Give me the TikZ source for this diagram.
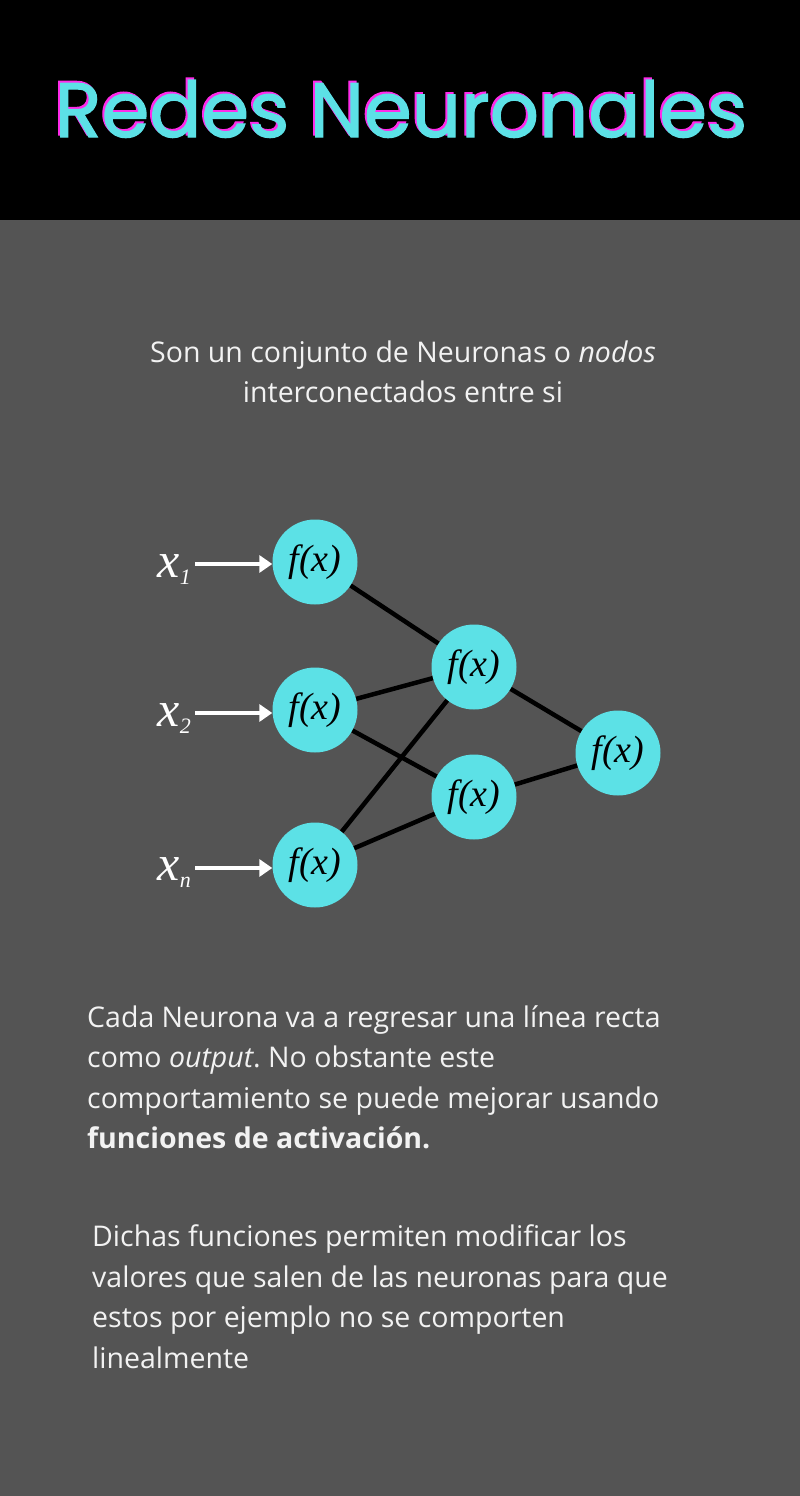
\documentclass[tikz,border=0pt]{standalone}
\usepackage{fontspec}
\setmainfont{Open Sans}
\newfontfamily\titlefont[FakeBold=1.6]{Poppins}
\newfontfamily\mathserif{Liberation Serif}
\usetikzlibrary{arrows.meta}
\definecolor{bgray}{HTML}{545454}
\definecolor{cyanN}{HTML}{5CE1E6}
\definecolor{magN}{HTML}{FF2BEA}
\definecolor{txtw}{HTML}{F2F2F2}
\frenchspacing
\tikzset{
  neuron/.style={circle, fill=cyanN, minimum size=85pt, inner sep=0pt,
    font=\mathserif\itshape\fontsize{38}{38}\selectfont, text=black},
  conn/.style={line width=4.5pt, black},
  inarrow/.style={line width=4.5pt, white, -{Triangle[length=13pt,width=17pt]}},
  inlabel/.style={anchor=base east, inner sep=0pt, text=white,
    font=\mathserif\itshape\fontsize{50}{50}\selectfont},
  bodyline/.style={anchor=base west, inner sep=0pt, text=txtw,
    font=\fontsize{28.5}{40}\selectfont},
  centerline/.style={anchor=base, inner sep=0pt, text=txtw,
    font=\fontsize{28.5}{40}\selectfont},
  titletext/.style={anchor=base, inner sep=0pt,
    font=\titlefont\fontsize{77}{77}\selectfont}
}
\begin{document}
\begin{tikzpicture}[x=1pt,y=-1pt]
\useasboundingbox (0,0) rectangle (800,1496);
\fill[bgray] (0,0) rectangle (800,1496);
\fill[black] (0,0) rectangle (800,220);
% title
\node[titletext, text=magN] (titleshadow) at (399,135) {Redes Neuronales};
\node[titletext, text=cyanN] (title) at (401,137) {Redes Neuronales};
% intro
\node[centerline] (intro1) at (403,362) {Son un conjunto de Neuronas o \textit{nodos}};
\node[centerline] (intro2) at (403,402) {interconectados entre si};
% network
\node[neuron] (i1) at (315,562) {f(x)};
\node[neuron] (i2) at (315,710) {f(x)};
\node[neuron] (i3) at (315,865) {f(x)};
\node[neuron] (h1) at (474,667) {f(x)};
\node[neuron] (h2) at (474,797) {f(x)};
\node[neuron] (o1) at (618,753) {f(x)};
\draw[conn] (i1) -- (h1);
\draw[conn] (i2) -- (h1);
\draw[conn] (i2) -- (h2);
\draw[conn] (i3) -- (h1);
\draw[conn] (i3) -- (h2);
\draw[conn] (h1) -- (o1);
\draw[conn] (h2) -- (o1);
\coordinate (a1) at (195,564);
\coordinate (a2) at (195,713);
\coordinate (a3) at (195,868);
\draw[inarrow] (a1) -- (a1 -| i1.west);
\draw[inarrow] (a2) -- (a2 -| i2.west);
\draw[inarrow] (a3) -- (a3 -| i3.west);
\node[inlabel] (x1) at (191,577) {x\raisebox{-7pt}{\fontsize{22}{22}\selectfont 1}};
\node[inlabel] (x2) at (191,726) {x\raisebox{-7pt}{\fontsize{22}{22}\selectfont 2}};
\node[inlabel] (xn) at (191,880) {x\raisebox{-7pt}{\fontsize{22}{22}\selectfont n}};
% paragraph 1
\node[bodyline] (p1a) at (87,1027) {Cada Neurona va a regresar una línea recta};
\node[bodyline] (p1b) at (87,1067) {como \textit{output}. No obstante este};
\node[bodyline] (p1c) at (87,1108) {comportamiento se puede mejorar usando};
\node[bodyline] (p1d) at (87,1148) {\bfseries funciones de activación.};
% paragraph 2
\node[bodyline] (p2a) at (92,1246) {Dichas funciones permiten modificar los};
\node[bodyline] (p2b) at (92,1287) {valores que salen de las neuronas para que};
\node[bodyline] (p2c) at (92,1327) {estos por ejemplo no se comporten};
\node[bodyline] (p2d) at (92,1368) {linealmente};
\end{tikzpicture}
\end{document}
